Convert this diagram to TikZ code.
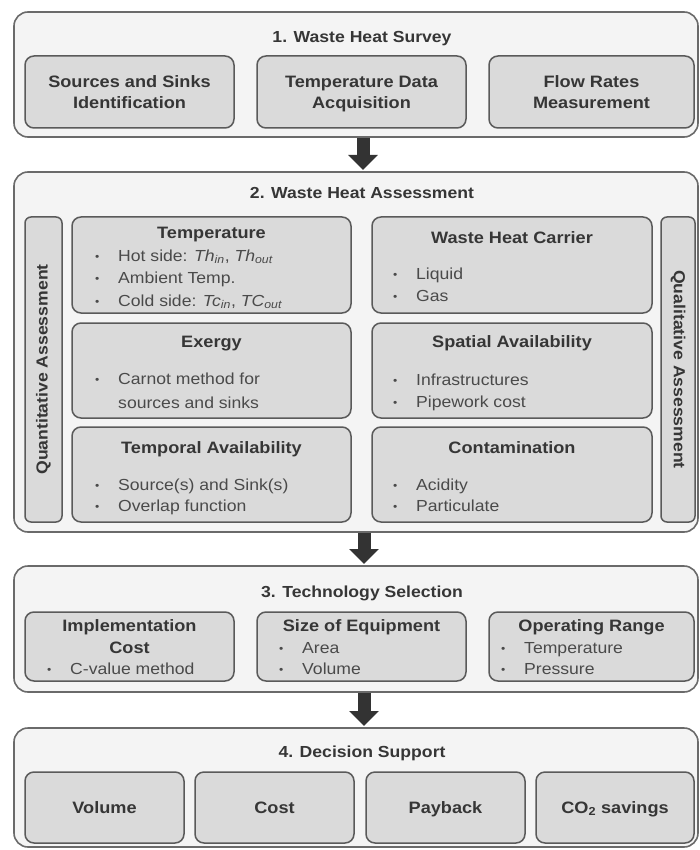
\documentclass[tikz,border=0pt]{standalone}
\usepackage{fontspec}
\setmainfont{Liberation Sans}[FakeStretch=1.1]
\usetikzlibrary{arrows.meta,fit}
\definecolor{panelfill}{HTML}{F4F4F4}
\definecolor{paneldraw}{HTML}{6A6A6A}
\definecolor{boxfill}{HTML}{DADADA}
\definecolor{boxdraw}{HTML}{5A5A5A}
\definecolor{ttlcol}{HTML}{363636}
\definecolor{txtcol}{HTML}{4A4A4A}
\definecolor{arrcol}{HTML}{333333}
\tikzset{
  x=1pt, y=-1pt,
  panel/.style={draw=paneldraw, fill=panelfill, line width=1.6pt, rounded corners=14pt, inner sep=0pt, outer sep=0pt},
  box/.style={draw=boxdraw, fill=boxfill, line width=1.5pt, rounded corners=9pt, inner sep=0pt, outer sep=0pt},
  ptitle/.style={anchor=base, text=ttlcol, font=\fontsize{16}{19}\selectfont\bfseries, inner sep=0pt},
  btitle/.style={anchor=base, text=ttlcol, font=\fontsize{16.5}{20}\selectfont\bfseries, inner sep=0pt},
  vtitle/.style={text=ttlcol, font=\fontsize{16}{19}\selectfont\bfseries, inner sep=0pt},
  btxt/.style={anchor=base west, text=txtcol, font=\fontsize{16}{19}\selectfont, inner sep=0pt},
  bdot/.style={anchor=base west, text=txtcol, font=\fontsize{11}{12}\selectfont, inner sep=0pt},
  bigarrow/.style={draw=arrcol, line width=13pt, -{Triangle[width=29pt,length=15pt]}, shorten <=1pt, shorten >=2pt}
}
\newcommand\bl[4]{%
  \node[bdot] (#1d) at (#2,#3+5) {•};
  \node[btxt] (#1) at (#2+23,#3+6) {#4};}
\begin{document}
\begin{tikzpicture}
\useasboundingbox (0,0) rectangle (700,850);
% Panel 1
\node[panel, fit={(14,12) (698,137)}] (p1) {};
\node[ptitle] (p1t) at (362,43) {1. Waste Heat Survey};
\node[box, fit={(25,56) (234,128)}] (s1) {};
\node[box, fit={(257,56) (466,128)}] (s2) {};
\node[box, fit={(489,56) (694,128)}] (s3) {};
\node[btitle] (s1a) at (129.5,88) {Sources and Sinks};
\node[btitle] (s1b) at (129.5,109) {Identification};
\node[btitle] (s2a) at (361.5,88) {Temperature Data};
\node[btitle] (s2b) at (361.5,109) {Acquisition};
\node[btitle] (s3a) at (591.5,88) {Flow Rates};
\node[btitle] (s3b) at (591.5,109) {Measurement};
% Panel 2
\node[panel, fit={(14,172) (698,532)}] (p2) {};
\node[ptitle] (p2t) at (362,199) {2. Waste Heat Assessment};
\node[box, rounded corners=6pt, fit={(25,217) (62,522)}] (qL) {};
\node[box, rounded corners=6pt, fit={(661,217) (695,522)}] (qR) {};
\node[vtitle, rotate=90] (qLt) at (qL.center) {Quantitative Assessment};
\node[vtitle, rotate=-90] (qRt) at (qR.center) {Qualitative Assessment};
\node[box, fit={(72,217) (351,313)}] (a1) {};
\node[box, fit={(372,217) (652,313)}] (a2) {};
\node[box, fit={(72,323) (351,418)}] (a3) {};
\node[box, fit={(372,323) (652,418)}] (a4) {};
\node[box, fit={(72,427) (351,522)}] (a5) {};
\node[box, fit={(372,427) (652,522)}] (a6) {};
\node[btitle] (a1t) at (211.5,238) {Temperature};
\bl{a1x}{95}{255}{Hot side: \textit{Th}\textsubscript{\textit{in}}, \textit{Th}\textsubscript{\textit{out}}}
\bl{a1y}{95}{277}{Ambient Temp.}
\bl{a1z}{95}{300}{Cold side: \textit{Tc}\textsubscript{\textit{in}}, \textit{TC}\textsubscript{\textit{out}}}
\node[btitle] (a2t) at (512,243) {Waste Heat Carrier};
\bl{a2x}{393}{273}{Liquid}
\bl{a2y}{393}{295}{Gas}
\node[btitle] (a3t) at (211.5,347) {Exergy};
\bl{a3x}{95}{378}{Carnot method for}
\node[btxt] (a3y) at (118,408) {sources and sinks};
\node[btitle] (a4t) at (512,347) {Spatial Availability};
\bl{a4x}{393}{379}{Infrastructures}
\bl{a4y}{393}{401}{Pipework cost}
\node[btitle] (a5t) at (211.5,453) {Temporal Availability};
\bl{a5x}{95}{484}{Source(s) and Sink(s)}
\bl{a5y}{95}{505}{Overlap function}
\node[btitle] (a6t) at (512,453) {Contamination};
\bl{a6x}{393}{484}{Acidity}
\bl{a6y}{393}{505}{Particulate}
% Panel 3
\node[panel, fit={(14,566) (698,692)}] (p3) {};
\node[ptitle] (p3t) at (362,597) {3. Technology Selection};
\node[box, fit={(25,612) (234,681)}] (t1) {};
\node[box, fit={(257,612) (466,681)}] (t2) {};
\node[box, fit={(489,612) (694,681)}] (t3) {};
\node[btitle] (t1a) at (129.5,631) {Implementation};
\node[btitle] (t1b) at (129.5,653) {Cost};
\bl{t1c}{47}{668}{C-value method}
\node[btitle] (t2a) at (361.5,631) {Size of Equipment};
\bl{t2b}{279}{647}{Area}
\bl{t2c}{279}{668}{Volume}
\node[btitle] (t3a) at (591.5,631) {Operating Range};
\bl{t3b}{501}{647}{Temperature}
\bl{t3c}{501}{668}{Pressure}
% Panel 4
\node[panel, fit={(14,728) (698,847)}] (p4) {};
\node[ptitle] (p4t) at (362,757) {4. Decision Support};
\node[box, fit={(25,772) (184,843)}] (d1) {};
\node[box, fit={(195,772) (354,843)}] (d2) {};
\node[box, fit={(366,772) (525,843)}] (d3) {};
\node[box, fit={(536,772) (694,843)}] (d4) {};
\node[btitle] (d1t) at (104.5,813) {Volume};
\node[btitle] (d2t) at (274.5,813) {Cost};
\node[btitle] (d3t) at (445.5,813) {Payback};
\node[btitle] (d4t) at (615,813) {CO\textsubscript{2} savings};
% Arrows
\draw[bigarrow] ([xshift=7pt]p1.south) -- ([xshift=7pt]p2.north);
\draw[bigarrow] ([xshift=8pt]p2.south) -- ([xshift=8pt]p3.north);
\draw[bigarrow] ([xshift=8pt]p3.south) -- ([xshift=8pt]p4.north);
\end{tikzpicture}
\end{document}
